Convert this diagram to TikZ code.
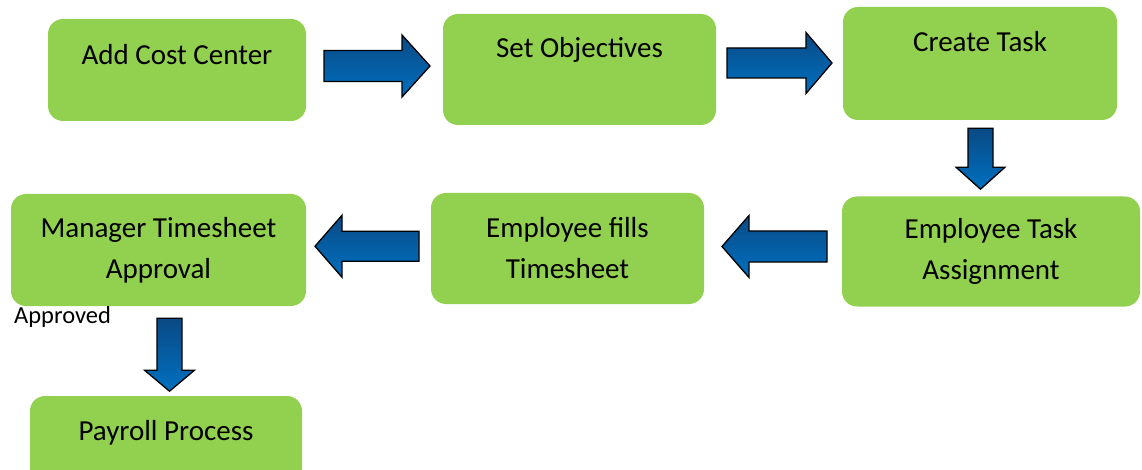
\documentclass[tikz,border=0pt]{standalone}
\usepackage{fontspec}
\setmainfont{Carlito}
\usetikzlibrary{calc}
\definecolor{boxgreen}{HTML}{92D050}
\definecolor{arrowdark}{HTML}{0A4A85}
\definecolor{arrowlight}{HTML}{0070C0}
\tikzset{
	stepbox/.style={fill=boxgreen, rounded corners=15pt, align=center, inner sep=0pt, font=\fontsize{29}{41}\selectfont},
	blockline/.style={draw=black, line width=1.3pt, top color=arrowdark, bottom color=arrowlight},
}
\def\blockarrow[#1](#2)(#3:#4:#5:#6:#7){\draw[#1, shift={(#2)}, rotate=#3] ({-#4/2}, -#5) -- ({#4/2-#7}, -#5) -- ({#4/2-#7}, -#6) -- ({#4/2}, 0) -- ({#4/2-#7}, #6) -- ({#4/2-#7}, #5) -- ({-#4/2}, #5) -- cycle;}

\begin{document}
\begin{tikzpicture}[x=1pt, y=-1pt]
			%%%%% START %%%%%
			\useasboundingbox (0,0) rectangle (1142,470);
			
			\node[stepbox, minimum width=258pt, minimum height=102pt] (cost) at (177,70) {Add Cost Center\\[-10pt]\mbox{}};
			\node[stepbox, minimum width=273pt, minimum height=111pt] (objectives) at (579.5,69.5) {Set Objectives\\[4pt]\mbox{}};
			\node[stepbox, minimum width=274pt, minimum height=113pt] (task) at (980,63.5) {Create Task\\[4pt]\mbox{}};
			
			\node[stepbox, minimum width=298pt, minimum height=110pt] (assign) at (991,251.5) {Employee Task\\Assignment};
			\node[stepbox, minimum width=273pt, minimum height=111pt] (fills) at (567.5,248.5) {Employee fills\\Timesheet};
			\node[stepbox, minimum width=295pt, minimum height=112pt] (manager) at (158.5,250) {Manager Timesheet\\Approval};
			
			\node[anchor=west, inner sep=0pt, font=\fontsize{24.5}{29}\selectfont] (approved) at (14,317) {Approved};
			
			\node[stepbox, minimum width=272pt, minimum height=110pt] (payroll) at (166,451) {Payroll Process\\\mbox{}};
			
			\blockarrow[blockline]($(cost.east)!0.5!(objectives.west)+(2.5,-3.75)$)(0:106:15.5:31:28);
			\blockarrow[blockline]($(objectives.east)!0.5!(task.west)+(0,-3.5)$)(0:105:15:30.5:26);
			\blockarrow[blockline]($(task.south)+(0.5,38.5)$)(-90:61:12.5:24.5:22);
			\blockarrow[blockline]($(fills.east)!0.5!(assign.west)+(1.5,-3.5)$)(180:105:15.5:31:27);
			\blockarrow[blockline]($(manager.east)!0.5!(fills.west)+(-1.5,-3)$)(180:104:15:31:27);
			\blockarrow[blockline]($(manager.south)+(11,48.5)$)(-90:73:12.5:25:21);
			
			%%%%% END %%%%%
\end{tikzpicture}
\end{document}
